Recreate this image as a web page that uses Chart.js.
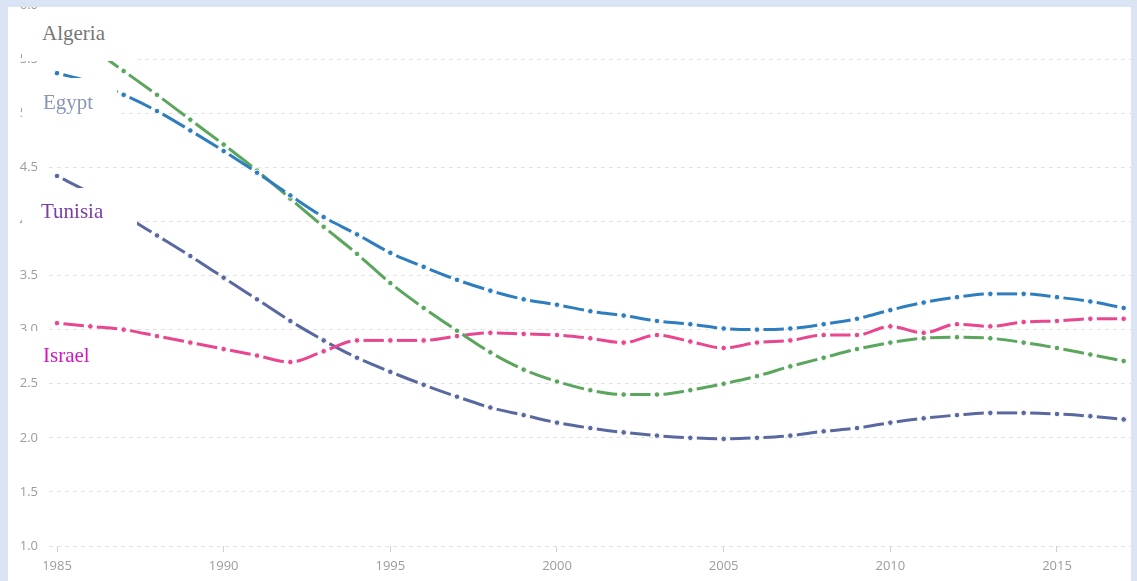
<!DOCTYPE html>
<html><head><meta charset="utf-8">
<script src="https://cdn.jsdelivr.net/npm/chart.js@4"></script>
<style>
html,body{margin:0;padding:0;background:#fff;}
#wrap{position:relative;width:1137px;height:581px;overflow:hidden;background:#fff}
canvas{position:absolute;left:0;top:0}
.frame{position:absolute;background:#dbe4f4}
.box{position:absolute;background:#fff}
.lbl{position:absolute;font-family:"Liberation Serif","Times New Roman",serif;font-size:21px;line-height:21px;white-space:nowrap}
</style></head><body>
<div id="wrap">
<canvas id="c" width="1137" height="581"></canvas>
<div class="frame" style="left:0;top:0;width:1137px;height:7px"></div>
<div class="frame" style="left:0;top:0;width:8px;height:581px"></div>
<div class="frame" style="right:0;top:0;width:6px;height:581px"></div>
<div class="box" style="left:22px;top:9px;width:116px;height:52px"></div>
<div class="box" style="left:22px;top:78px;width:95px;height:47px"></div>
<div class="box" style="left:22px;top:188px;width:115px;height:44px"></div>
<div class="box" style="left:10px;top:331px;width:85px;height:41px"></div>
<div class="lbl" style="left:42px;top:23px;color:#777777">Algeria</div>
<div class="lbl" style="left:43px;top:92px;color:#8797b5">Egypt</div>
<div class="lbl" style="left:41px;top:201px;color:#7a3ea3">Tunisia</div>
<div class="lbl" style="left:43px;top:345px;color:#d017c0">Israel</div>
</div>
<script>
const years = [1985,1986,1987,1988,1989,1990,1991,1992,1993,1994,1995,1996,1997,1998,1999,2000,2001,2002,2003,2004,2005,2006,2007,2008,2009,2010,2011,2012,2013,2014,2015,2016,2017];
const egypt = [5.37,5.29,5.17,5.02,4.84,4.65,4.45,4.24,4.04,3.88, 3.71,3.58,3.46,3.36,3.28,3.23,3.17,3.13,3.08,3.05, 3.01,3.00,3.01,3.05,3.10,3.18,3.25,3.30,3.33,3.33, 3.30,3.26,3.20];
const algeria = [5.83,5.61,5.39,5.17,4.94,4.71,4.47,4.21,3.95,3.70, 3.43,3.20,2.99,2.79,2.63,2.52,2.44,2.40,2.40,2.44, 2.50,2.57,2.66,2.74,2.82,2.88,2.92,2.93,2.92,2.88, 2.83,2.77,2.71];
const tunisia = [4.42,4.26,4.06,3.87,3.68,3.48,3.28,3.08,2.90,2.74, 2.61,2.49,2.38,2.28,2.21,2.14,2.09,2.05,2.02,2.00, 1.99,2.00,2.02,2.06,2.09,2.14,2.18,2.21,2.23,2.23, 2.22,2.20,2.17];
const israel = [3.06,3.03,3.00,2.94,2.88,2.82,2.76,2.70,2.80,2.90, 2.90,2.90,2.94,2.97,2.96,2.95,2.92,2.88,2.95,2.89, 2.83,2.88,2.90,2.95,2.95,3.03,2.97,3.05,3.03,3.07, 3.08,3.10,3.10];
const xTickYears = [1985,1990,1995,2000,2005,2010,2015];
const yTicks = [1.0,1.5,2.0,2.5,3.0,3.5,4.0,4.5,5.0,5.5,6.0];

const GAP = 6.5;
function segDash(ctx){
  const a = ctx.p0, b = ctx.p1;
  const L = Math.hypot(b.x - a.x, b.y - a.y);
  // tiny index-dependent difference keeps every segment stroked on its own
  return [Math.max(L - 2*GAP, 0.5), 2*GAP + 300 + (ctx.p0DataIndex % 2) * 0.001];
}
function mk(label, vals, color){
  return {
    label,
    data: vals.map((v,i)=>({x: years[i], y: v})),
    borderColor: color,
    backgroundColor: color,
    borderWidth: 3,
    pointRadius: 2.8,
    pointBorderWidth: 1,
    pointBorderColor: '#ffffff',
    pointBackgroundColor: color,
    cubicInterpolationMode: 'monotone',
    fill: false,
    segment: { borderDash: segDash, borderDashOffset: -GAP }
  };
}
const tickFont = {family: '"Open Sans", sans-serif', size: 13};
new Chart(document.getElementById('c'), {
  type: 'line',
  data: { datasets: [
    mk('Egypt', egypt, '#2e7ebf'),
    mk('Algeria', algeria, '#5ba65d'),
    mk('Israel', israel, '#e8468e'),
    mk('Tunisia', tunisia, '#5968a1')
  ]},
  options: {
    responsive: false,
    animation: false,
    devicePixelRatio: 1,
    layout: { padding: {left: 0, top: 1, right: 6, bottom: 0} },
    plugins: { legend: {display: false}, tooltip: {enabled: false} },
    scales: {
      x: {
        type: 'linear', min: 1984.76, max: 2017.22,
        afterBuildTicks: s => { s.ticks = xTickYears.map(v => ({value: v})); },
        afterFit: s => { s.height = 35; },
        grid: { drawOnChartArea: false, drawTicks: true, tickLength: 6, color: '#d0d0d0', lineWidth: 1 },
        border: { display: false },
        ticks: { callback: v => String(v), color: '#9c9c9c', font: tickFont, padding: 6, maxRotation: 0, autoSkip: false }
      },
      y: {
        min: 1, max: 6,
        afterBuildTicks: s => { s.ticks = yTicks.map(v => ({value: v})); },
        afterFit: s => { s.width = 49; s.paddingTop = 0; s.paddingBottom = 0; },
        grid: { drawTicks: false, color: '#e2e2e2', lineWidth: 1 },
        border: { display: false, dash: [4,4] },
        ticks: { callback: v => v.toFixed(1), color: '#9c9c9c', font: tickFont, padding: 11 }
      }
    }
  }
});
</script>
</body></html>
